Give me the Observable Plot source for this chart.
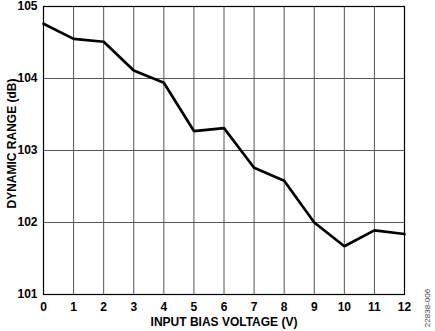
<!DOCTYPE html>
<html>
<head>
<meta charset="utf-8">
<script src="https://cdn.jsdelivr.net/npm/d3@7"></script>
<script src="https://cdn.jsdelivr.net/npm/@observablehq/plot@0.6"></script>
<style>
  html, body { margin: 0; padding: 0; background: #fff; }
  #wrap { position: relative; width: 435px; height: 331px; }
  #code { position: absolute; left: 427px; top: 308px; transform: translate(-50%, -50%) rotate(-90deg);
          font-family: "Liberation Sans", Arial, sans-serif; font-size: 8px; color: #444; white-space: nowrap; }
</style>
</head>
<body>
<div id="wrap"></div>
<script>
const biasVoltage = [0, 1, 2, 3, 4, 5, 6, 7, 8, 9, 10, 11, 12];
const dynamicRange = [104.76, 104.55, 104.51, 104.11, 103.94, 103.27, 103.31, 102.76, 102.58, 102.0, 101.67, 101.89, 101.84];
const xTicks = [0, 1, 2, 3, 4, 5, 6, 7, 8, 9, 10, 11, 12];
const yTicks = [101, 102, 103, 104, 105];
const yLabel = "DYNAMIC RANGE (dB)";
const xLabel = "INPUT BIAS VOLTAGE (V)";

const data = biasVoltage.map((v, i) => ({v, dr: dynamicRange[i]}));

const chart = Plot.plot({
  width: 435,
  height: 331,
  marginLeft: 43,
  marginRight: 31,
  marginTop: 6,
  marginBottom: 37,
  style: {fontFamily: "'Liberation Sans', Arial, sans-serif", fontWeight: "bold", fontSize: "12px", color: "#000", background: "#fff"},
  x: {domain: [0, 12]},
  y: {domain: [101, 105]},
  marks: [
    Plot.gridX(xTicks, {stroke: "#555", strokeOpacity: 1, strokeWidth: 1}),
    Plot.gridY(yTicks, {stroke: "#555", strokeOpacity: 1, strokeWidth: 1}),
    Plot.frame({stroke: "#000", strokeWidth: 1.2}),
    Plot.line(data, {x: "v", y: "dr", stroke: "#000", strokeWidth: 2.7, strokeLinejoin: "miter"}),
    Plot.axisX(xTicks, {tickSize: 0, tickPadding: 8, tickFormat: "d", label: xLabel, labelAnchor: "center", labelArrow: "none", labelOffset: 31}),
    Plot.axisY(yTicks, {tickSize: 0, tickPadding: 6, tickFormat: "d", label: null}),
    Plot.text([yLabel], {text: d => d, frameAnchor: "left", textAnchor: "middle", rotate: -90, dx: -31, dy: -7, fontWeight: "bold", fontSize: 12, lineAnchor: "middle"})
  ]
});
const wrap = document.getElementById("wrap");
wrap.appendChild(chart);
const code = document.createElement("div");
code.id = "code";
code.textContent = "22838-006";
wrap.appendChild(code);
</script>
</body>
</html>
